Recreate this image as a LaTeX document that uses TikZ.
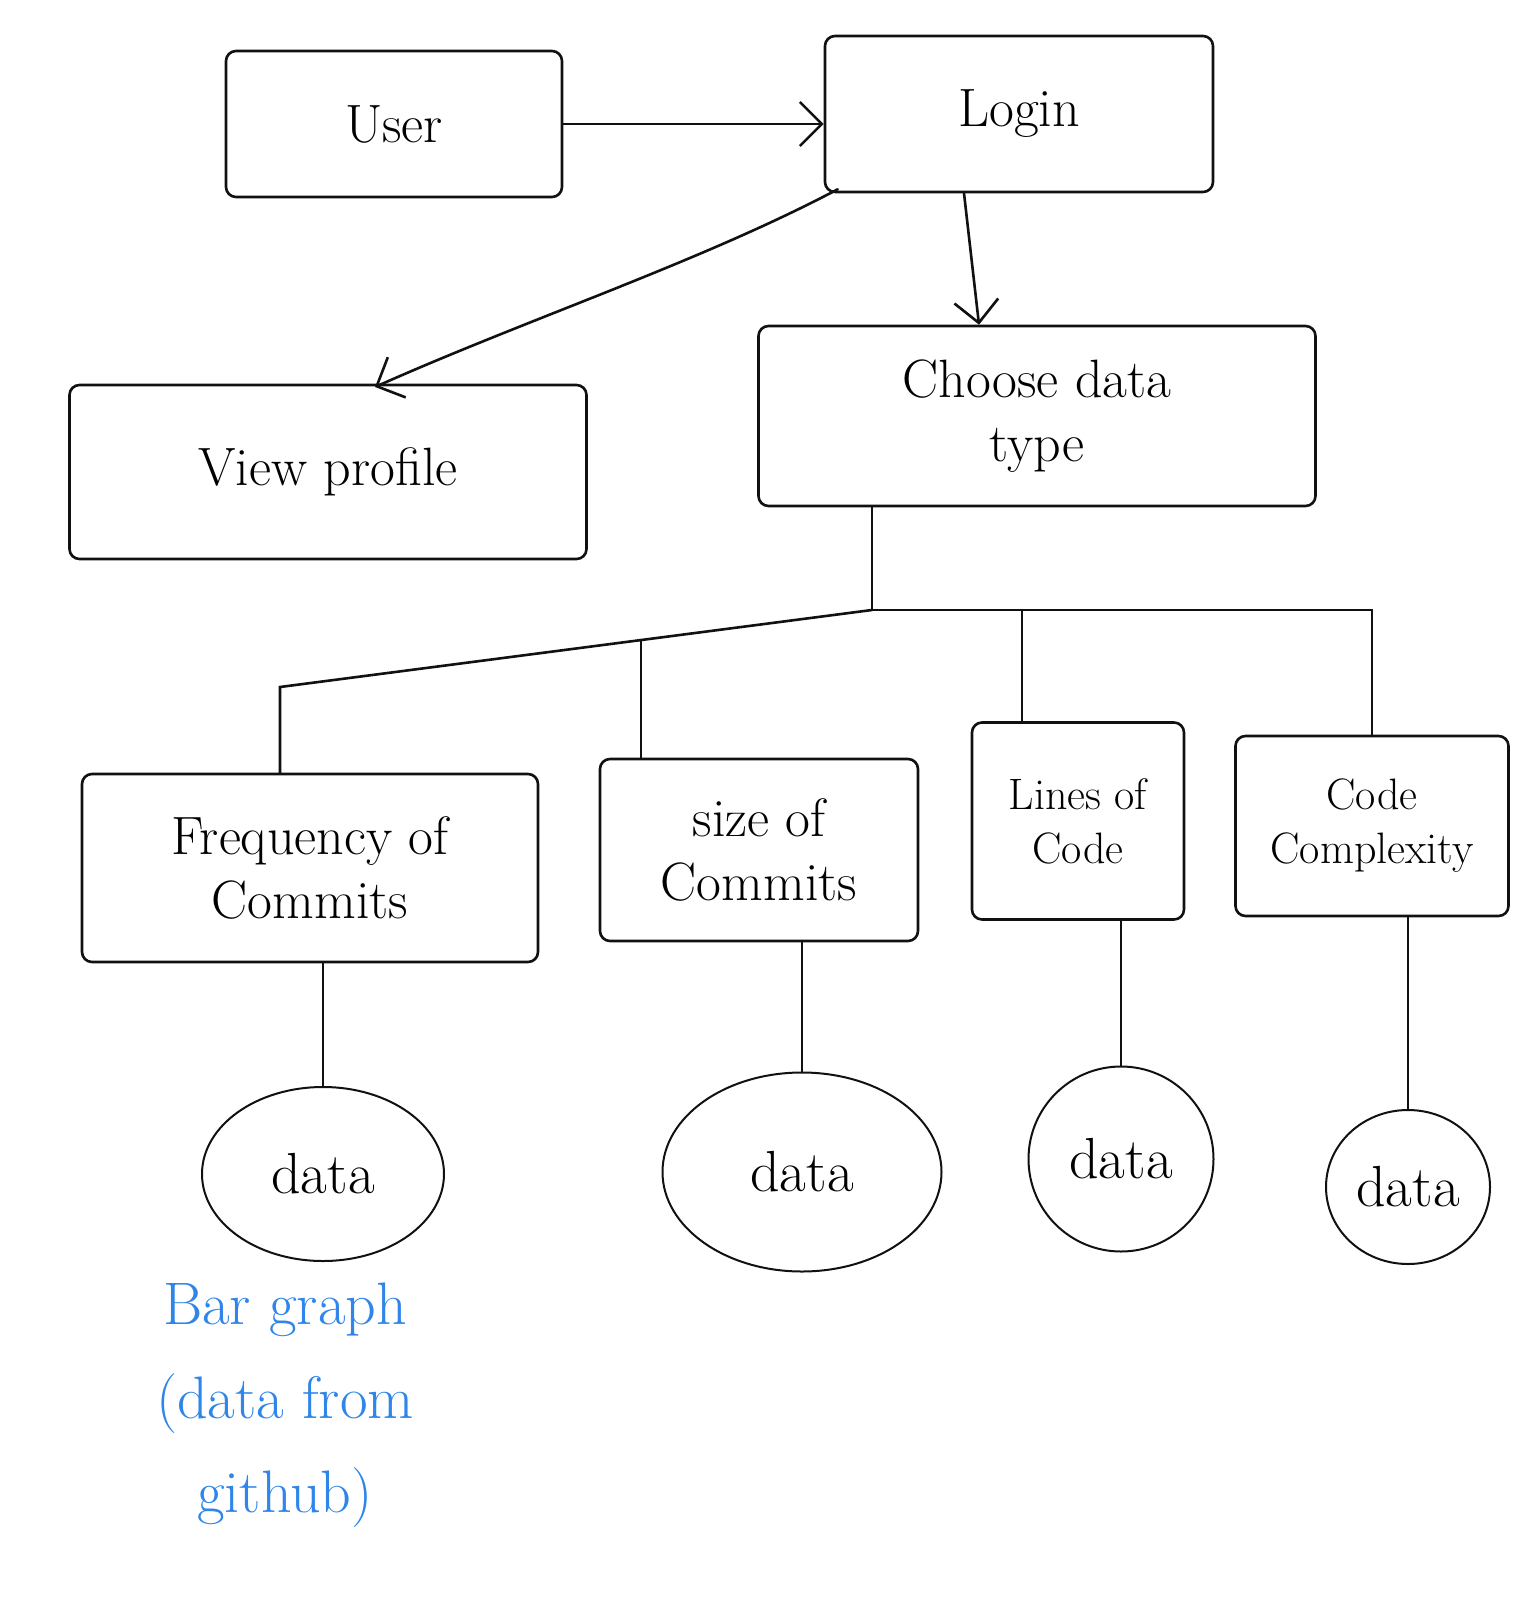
\documentclass[tikz,border=0pt]{standalone}
\usepackage{tikz}
\usepackage{xcolor}
\usetikzlibrary{arrows.meta,shapes.geometric,calc}
\definecolor{ink}{HTML}{111111}
\definecolor{notebl}{HTML}{2F86E8}

\tikzset{
  flowbox/.style={draw=ink,line width=2.6pt,rounded corners=10pt,align=center,
                  inner sep=0pt,font=\fontsize{54}{64}\selectfont},
  smallbox/.style={flowbox,font=\fontsize{44}{54}\selectfont},
  datanode/.style={draw=ink,ellipse,line width=2pt,inner sep=0pt,
                   font=\fontsize{58}{66}\selectfont},
  link/.style={draw=ink,line width=2.6pt,line cap=round},
  flowarrow/.style={link,-{Straight Barb[length=22pt,width=44pt,line width=2.6pt]}},
}

\begin{document}
\begin{tikzpicture}[x=1pt,y=-1pt]
  \useasboundingbox (0,0) rectangle (1536,1608);

  % top row
  \node[flowbox,minimum width=336pt,minimum height=146pt] (user)   at (394,124)  {User};
  \node[flowbox,minimum width=388pt,minimum height=156pt] (login)  at (1019,114) {Login};
  \node[flowbox,minimum width=517pt,minimum height=174pt] (view)   at (328,472)  {View profile};
  \node[flowbox,minimum width=557pt,minimum height=180pt] (choose) at (1037,416) {Choose data\\type};

  % data types
  \node[flowbox,minimum width=456pt,minimum height=188pt]  (freq)  at (310,868)  {Frequency of\\Commits};
  \node[flowbox,minimum width=318pt,minimum height=182pt]  (size)  at (759,850)  {size of\\Commits};
  \node[smallbox,minimum width=212pt,minimum height=197pt] (lines) at (1078,821) {Lines of\\Code};
  \node[smallbox,minimum width=273pt,minimum height=180pt] (cplx)  at (1372,826) {Code\\Complexity};

  % data
  \node[datanode,minimum width=242pt,minimum height=174pt] (data1) at (323,1174)  {data};
  \node[datanode,minimum width=279pt,minimum height=199pt] (data2) at (802,1172)  {data};
  \node[datanode,minimum width=185pt,minimum height=185pt] (data3) at (1121,1159) {data};
  \node[datanode,minimum width=164pt,minimum height=154pt] (data4) at (1408,1187) {data};

  \node[text=notebl,align=center,font=\fontsize{60}{94}\selectfont] (note) at (285,1405)
    {Bar graph\\(data from\\github)};

  % arrows
  \draw[flowarrow] (user.east) -- (user.east -| login.west);
  \coordinate (viewin) at (375,387);
  \draw[flowarrow] ($(login.south west)+(14,-4)$) .. controls (700,262) and (530,318) .. (viewin);
  \draw[flowarrow] ($(login.south)+(-55,0)$) -- ($(choose.north)+(-58,0)$);

  % tree
  \coordinate (split)     at (872,610);
  \coordinate (leftbend)  at (280,687);
  \coordinate (rightbend) at (1372,610);
  \coordinate (sizejoin)  at ($(split)!0.39!(leftbend)$);
  \coordinate (linesjoin) at ($(split)!0.3!(rightbend)$);
  \draw[link] (choose.south -| split) -- (split);
  \draw[link] (split) -- (leftbend) -- (freq.north -| leftbend);
  \draw[link] (split) -- (rightbend) -- (cplx.north);
  \draw[link] (sizejoin) -- (sizejoin |- size.north);
  \draw[link] (linesjoin) -- (linesjoin |- lines.north);

  \foreach \b/\d in {freq/data1,size/data2,lines/data3,cplx/data4}
    \draw[link] (\d.north |- \b.south) -- (\d.north);
\end{tikzpicture}
\end{document}
